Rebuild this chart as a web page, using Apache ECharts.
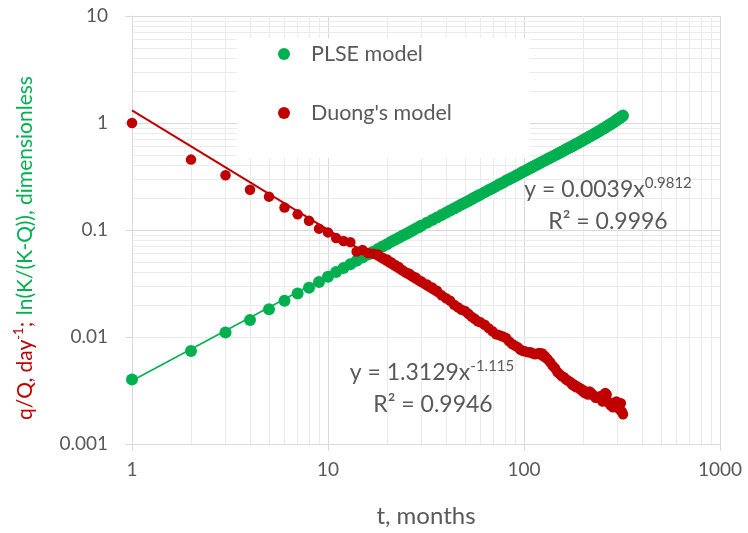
<!DOCTYPE html>
<html><head><meta charset="utf-8">
<script src="https://cdn.jsdelivr.net/npm/echarts@6/dist/echarts.min.js"></script>
<style>html,body{margin:0;padding:0;background:#fff}#c{width:748px;height:533px}</style>
</head><body><div id="c"></div>
<script>
const months = [1,2,3,4,5,6,7,8,9,10,11,12,13,14,15,16,17,18,19,20,21,22,23,24,25,26,27,28,29,30,
  32,34,36,38,40,42,44,46,48,50,52,54,56,58,60,
  63,66,69,72,75,78,81,84,87,90,93,96,99,102,105,108,111,114,117,120,
  124,128,132,136,140,144,148,152,156,160,164,168,172,176,180,184,188,192,196,200,
  204,208,212,216,220,224,228,232,236,240,244,248,252,256,260,264,268,272,276,280,
  284,288,292,296,300,304,308,312,316,320];
const plse = [0.0040,0.0074,0.0110,0.0144,0.0182,0.0218,0.0255,0.0289,0.0326,0.0365,
  0.0405,0.0442,0.0478,0.0515,0.0553,0.0590,0.0627,0.0665,0.0700,0.0737,
  0.0775,0.0810,0.0846,0.0882,0.0918,0.0955,0.0990,0.103,0.106,0.110,
  0.117,0.124,0.131,0.138,0.145,0.152,0.159,0.166,0.173,0.180,0.187,0.194,0.201,0.208,0.215,
  0.225,0.236,0.246,0.257,0.267,0.277,0.288,0.298,0.308,0.318,0.329,0.339,0.350,0.360,0.370,0.380,0.390,0.400,0.410,0.420,
  0.434,0.447,0.460,0.474,0.487,0.500,0.513,0.527,0.540,0.553,0.567,0.580,0.594,0.607,0.621,0.635,0.648,0.662,0.676,0.690,
  0.704,0.718,0.732,0.746,0.760,0.775,0.789,0.804,0.818,0.833,0.848,0.863,0.878,0.893,0.909,0.925,0.941,0.957,0.973,0.990,
  1.007,1.024,1.041,1.059,1.077,1.095,1.114,1.133,1.152,1.172];
const duong = [1.0,0.455,0.325,0.238,0.205,0.162,0.140,0.122,0.103,0.095,
  0.084,0.079,0.077,0.063,0.065,0.061,0.060,0.059,0.055,0.053,
  0.050,0.047,0.045,0.042,0.040,0.039,0.037,0.036,0.034,0.033,
  0.031,0.029,0.027,0.0245,0.023,0.0218,0.020,0.019,0.018,0.0175,0.0165,0.0155,0.0148,0.014,0.0137,
  0.0130,0.0121,0.0113,0.0106,0.0104,0.0101,0.0098,0.0091,0.0086,0.0083,0.0080,0.0076,0.0074,0.0073,0.0072,0.0072,0.0070,0.0069,0.0070,0.0071,
  0.0070,0.0066,0.0062,0.0058,0.0054,0.0051,0.0047,0.0045,0.0043,0.0042,0.0040,0.0039,0.0038,0.0036,0.0035,0.0034,0.0034,0.0033,0.0032,0.0031,
  0.0030,0.0030,0.0029,0.0031,0.0030,0.0029,0.0028,0.0027,0.0027,0.0027,0.0028,0.0026,0.0025,0.0029,0.0030,0.0029,0.0025,0.0024,0.0023,0.0024,
  0.0022,0.0023,0.0024,0.0025,0.0023,0.0022,0.0021,0.0024,0.0020,0.0019];
const trendMonths = [1, 320];
const plseTrend = [0.0039, 1.12];
const duongTrend = [1.3129, 0.0021];
const xTicks = [1, 10, 100, 1000];
const xTickLabels = ['1', '10', '100', '1000'];
const yTicks = [0.001, 0.01, 0.1, 1, 10];
const yTickLabels = ['0.001', '0.01', '0.1', '1', '10'];
const xMinor = [2,3,4,5,6,7,8,9,20,30,40,50,60,70,80,90,200,300,400,500,600,700,800,900];
const yMinor = [0.002,0.003,0.004,0.005,0.006,0.007,0.008,0.009,0.02,0.03,0.04,0.05,0.06,0.07,0.08,0.09,
  0.2,0.3,0.4,0.5,0.6,0.7,0.8,0.9,2,3,4,5,6,7,8,9];
const seriesNames = ['PLSE model', "Duong's model"];

const FONT = 'Lato, "Noto Sans", sans-serif';
const GREEN = '#00b050', RED = '#c00000', GRAY = '#595959';

function labelFor(ticks, labels) {
  return function (v) {
    for (let i = 0; i < ticks.length; i++) {
      if (Math.abs(Math.log10(v) - Math.log10(ticks[i])) < 1e-6) return labels[i];
    }
    return '';
  };
}
const zip = (a, b) => a.map((x, i) => [x, b[i]]);

const chart = echarts.init(document.getElementById('c'), null, {renderer: 'canvas'});
chart.setOption({
  animation: false,
  backgroundColor: '#fff',
  textStyle: {fontFamily: FONT},
  grid: {left: 132, right: 28, top: 16, bottom: 88},
  legend: {
    data: seriesNames,
    orient: 'vertical',
    left: 237, top: 38,
    backgroundColor: '#fff',
    padding: [5, 78, 34, 41],
    itemWidth: 12, itemHeight: 12, itemGap: 37,
    textStyle: {fontSize: 21.5, color: GRAY, fontFamily: FONT, padding: [0, 0, 0, 16]},
    z: 5
  },
  xAxis: {
    type: 'log', logBase: 10, min: 1, max: 1000, interval: 1,
    axisLine: {show: true, lineStyle: {color: '#d9d9d9'}},
    axisTick: {show: true, length: 7, lineStyle: {color: '#d9d9d9'}},
    axisLabel: {fontSize: 19, color: GRAY, margin: 16, fontFamily: FONT, formatter: labelFor(xTicks, xTickLabels)},
    splitLine: {show: true, lineStyle: {color: '#d9d9d9'}},
    name: 't, months', nameLocation: 'middle', nameGap: 60,
    nameTextStyle: {fontSize: 24, color: GRAY, fontFamily: FONT}
  },
  yAxis: {
    type: 'log', logBase: 10, min: 0.001, max: 10, interval: 1,
    axisLine: {show: true, lineStyle: {color: '#d9d9d9'}},
    axisTick: {show: true, length: 7, lineStyle: {color: '#d9d9d9'}},
    axisLabel: {fontSize: 19, color: GRAY, margin: 24, fontFamily: FONT, formatter: labelFor(yTicks, yTickLabels)},
    splitLine: {show: true, lineStyle: {color: '#d9d9d9'}}
  },
  graphic: [
    {type: 'text', x: 25, y: 248, rotation: Math.PI / 2, z: 10,
      style: {text: '{r|q/Q, day}{rs|-1}{r|;}  {g|ln(K/(K-Q)), dimensionless}',
        align: 'center', verticalAlign: 'middle',
        rich: {
          r: {fill: RED, fontSize: 21, fontFamily: FONT, lineHeight: 26},
          rs: {fill: RED, fontSize: 13, fontFamily: FONT, lineHeight: 26, verticalAlign: 'top', padding: [0,0,8,0]},
          g: {fill: GREEN, fontSize: 21, fontFamily: FONT, lineHeight: 26}
        }}},
    {type: 'text', x: 608, y: 190, z: 10,
      style: {text: '{n|y = 0.0039x}{s|0.9812}', align: 'center', verticalAlign: 'middle',
        rich: {n: {fill: GRAY, fontSize: 23, fontFamily: FONT, lineHeight: 28},
               s: {fill: GRAY, fontSize: 15, fontFamily: FONT, lineHeight: 28, verticalAlign: 'top', padding: [0,0,10,0]}}}},
    {type: 'text', x: 608, y: 222, z: 10,
      style: {text: 'R² = 0.9996', align: 'center', verticalAlign: 'middle', fill: GRAY, fontSize: 23, fontFamily: FONT}},
    {type: 'text', x: 432, y: 373, z: 10,
      style: {text: '{n|y = 1.3129x}{s|-1.115}', align: 'center', verticalAlign: 'middle',
        rich: {n: {fill: GRAY, fontSize: 23, fontFamily: FONT, lineHeight: 28},
               s: {fill: GRAY, fontSize: 15, fontFamily: FONT, lineHeight: 28, verticalAlign: 'top', padding: [0,0,10,0]}}}},
    {type: 'text', x: 433, y: 405, z: 10,
      style: {text: 'R² = 0.9946', align: 'center', verticalAlign: 'middle', fill: GRAY, fontSize: 23, fontFamily: FONT}}
  ],
  series: [
    {type: 'line', name: 'gridMinor', data: [], silent: true, z: 0,
      markLine: {silent: true, z: 0, zlevel: 0, symbol: 'none', label: {show: false}, animation: false,
        lineStyle: {color: '#ebebeb', width: 1, type: 'solid'},
        emphasis: {disabled: true},
        data: xMinor.map(v => ({xAxis: v})).concat(yMinor.map(v => ({yAxis: v})))}},
    {type: 'line', name: 'plseTrend', data: zip(trendMonths, plseTrend), showSymbol: false, symbol: 'none',
      lineStyle: {color: GREEN, width: 1.5}, z: 2, silent: true},
    {type: 'line', name: 'duongTrend', data: zip(trendMonths, duongTrend), showSymbol: false, symbol: 'none',
      lineStyle: {color: RED, width: 2}, z: 2, silent: true},
    {type: 'scatter', name: seriesNames[0], data: zip(months, plse), symbolSize: 12,
      itemStyle: {color: GREEN, opacity: 1}, z: 3},
    {type: 'scatter', name: seriesNames[1], data: zip(months, duong), symbolSize: 10.5,
      itemStyle: {color: RED, opacity: 1}, z: 4}
  ]
});
</script></body></html>
